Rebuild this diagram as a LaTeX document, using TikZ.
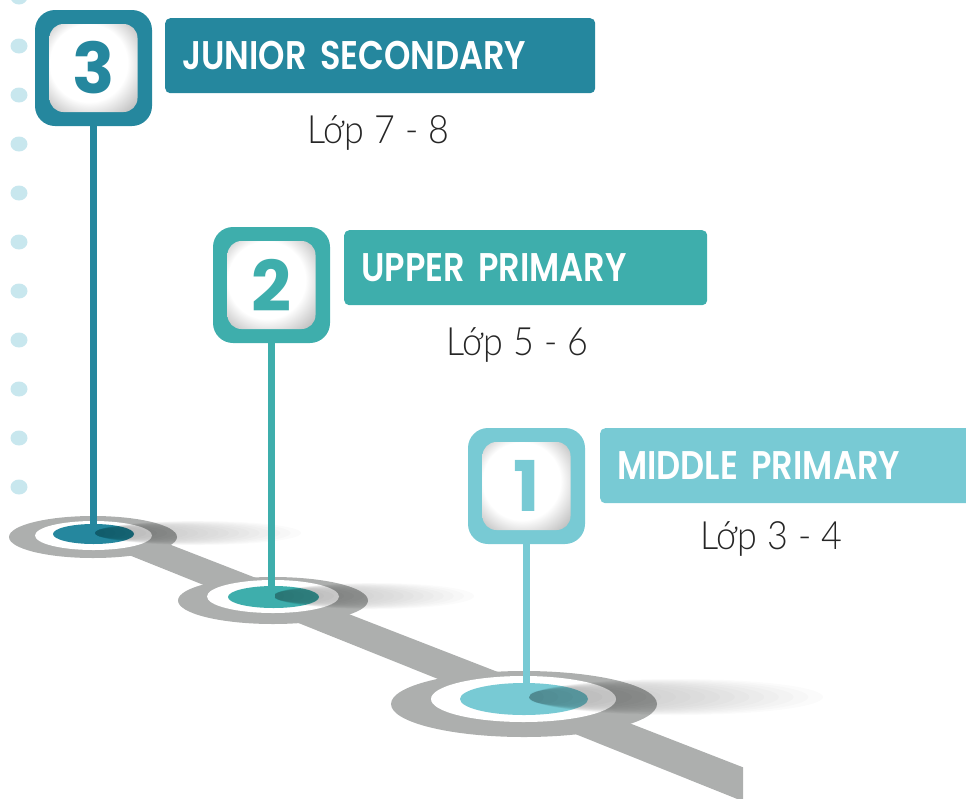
\documentclass[tikz,border=0pt]{standalone}
\usepackage{fontspec}
\newfontfamily\headfont{Poppins SemiBold}[FakeStretch=0.84]
\newfontfamily\digitfont{Poppins}
\newfontfamily\lopfont{Lato Light}[FakeStretch=0.92]
\usetikzlibrary{positioning}
\definecolor{tealdark}{HTML}{25879E}
\definecolor{tealmid}{HTML}{3EAEAC}
\definecolor{teallight}{HTML}{78CAD4}
\definecolor{dotblue}{HTML}{C8E7EE}
\definecolor{trackgray}{HTML}{ADAFAE}
\pgfdeclareradialshading{tileglow}{\pgfpoint{-5bp}{5bp}}{color(0bp)=(white); color(22bp)=(white); color(29bp)=(black!14); color(35bp)=(black!26); color(50bp)=(black!26)}

\begin{document}
\begin{tikzpicture}[x = 1pt, y = -1pt,
    pin/.style = {rounded corners=20pt, minimum width=117pt, minimum height=116pt, inner sep=0pt},
    tile/.style = {shade, shading=tileglow, rounded corners=14pt, minimum size=88pt, inner sep=0pt,
      font=\digitfont\bfseries\fontsize{70}{70}\selectfont},
    stage/.style = {anchor=north west, minimum height=75pt, inner xsep=17pt, inner ysep=0pt, align=left,
      rounded corners=5pt, text=white, font=\headfont\fontsize{40}{40}\selectfont},
    grade/.style = {anchor=base west, inner sep=0pt, text=black!85, font=\lopfont\fontsize{39}{39}\selectfont},
    stem/.style = {line width=6.5pt, line cap=round}]
    \useasboundingbox (0,0) rectangle (966,798);
    % dotted margin
    \foreach \k in {0,...,10}
      \fill [dotblue] (19,-3+49*\k) ellipse [x radius=8.5, y radius=7.5];
    % ground track
    \fill [trackgray] (93,514.6) -- (743,767.3) -- (743,801.3) -- (93,540.6) -- cycle;
    \fill [trackgray] (93,537) ellipse [x radius=84, y radius=21];
    \fill [trackgray] (273,600.5) ellipse [x radius=95, y radius=23.5];
    \fill [trackgray] (524,704) ellipse [x radius=133, y radius=33];
    \fill [white] (93.5,535.5) ellipse [x radius=58.5, y radius=14.5];
    \fill [white] (273,596.5) ellipse [x radius=66, y radius=16.5];
    \fill [white] (523.5,699) ellipse [x radius=92.5, y radius=23];
    \fill [tealdark] (93.5,534) ellipse [x radius=40.5, y radius=10];
    \fill [tealmid] (273.5,597) ellipse [x radius=45.5, y radius=11];
    \fill [teallight] (524,699) ellipse [x radius=64, y radius=16];
    % soft shadows
    \foreach \sx/\sy/\sr/\sh in {95/533/103/12, 274/596/100/13, 529/697/147/18}
      \foreach \k in {1,...,20}
        \fill [black, opacity=0.017] (\sx+\sr*\k/20,\sy) ellipse [x radius=\sr*\k/20, y radius=\sh*(0.3+0.7*\k/20)];
    \coordinate (base3) at (93.5,527);
    \coordinate (base2) at (271.5,597);
    \coordinate (base1) at (526.5,695);
    % pins
    \node [pin, fill=tealdark] (pin3) at (93.5,68) {};
    \node [pin, fill=tealmid] (pin2) at (271.5,285) {};
    \node [pin, fill=teallight] (pin1) at (526.5,486) {};
    \draw [stem, tealdark] (pin3.south) -- (base3);
    \draw [stem, tealmid] (pin2.south) -- (base2);
    \draw [stem, teallight] (pin1.south) -- (base1);
    \node [tile, text=tealdark] (tile3) at (pin3) {3};
    \node [tile, text=tealmid] (tile2) at (pin2) {2};
    \node [tile, text=teallight] (tile1) at (pin1) {1};
    % stages
    \node [stage, fill=tealdark, minimum width=430pt, text width=396pt] (stage3) at (165,18) {JUNIOR SECONDARY};
    \node [stage, fill=tealmid, minimum width=363pt, text width=329pt] (stage2) at (344,230) {UPPER PRIMARY};
    \node [stage, fill=teallight, minimum width=380pt, text width=346pt] (stage1) at (600,428) {MIDDLE PRIMARY};
    \node [grade] (grade3) at (307,143) {Lớp 7 - 8};
    \node [grade] (grade2) at (446,355) {Lớp 5 - 6};
    \node [grade] (grade1) at (700,549) {Lớp 3 - 4};
\end{tikzpicture}
\end{document}
